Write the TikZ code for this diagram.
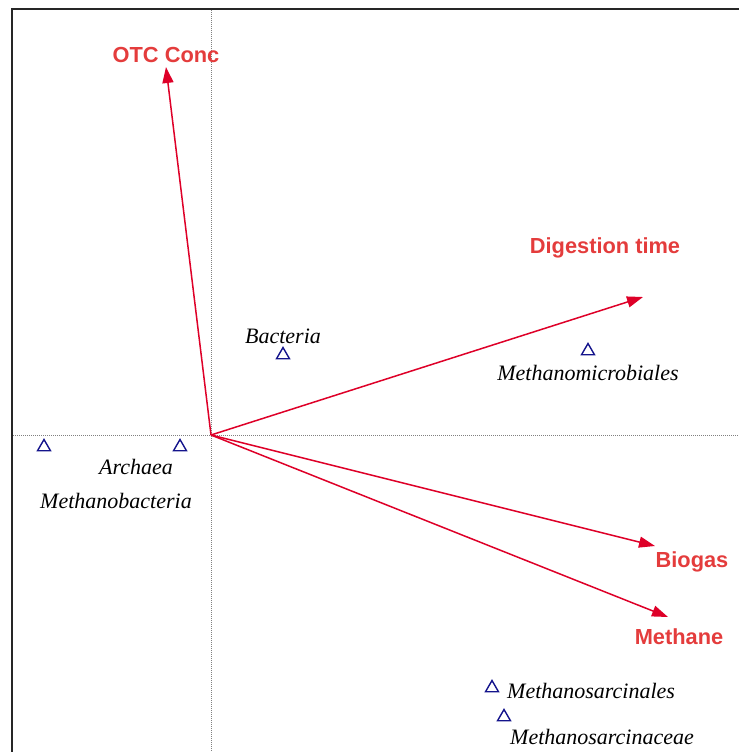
\documentclass[tikz,border=0pt]{standalone}
\usepackage{fontspec}
\setmainfont{Liberation Serif}
\newfontfamily\lsans{Liberation Sans}
\usetikzlibrary{arrows.meta,shapes.geometric}
\definecolor{arrowred}{RGB}{222,0,40}
\definecolor{labelred}{RGB}{228,60,60}
\definecolor{tri}{RGB}{20,20,140}
\tikzset{
  vec/.style={arrowred, line width=1.5pt, -{Triangle[length=16pt,width=11pt]}},
  varlabel/.style={text=labelred, font=\lsans\bfseries\fontsize{21.8}{24}\selectfont, inner sep=0pt},
  sp/.style={font=\itshape\fontsize{22}{24}\selectfont, inner sep=0pt},
  trimark/.style={regular polygon, regular polygon sides=3, draw=tri, line width=1.4pt, minimum size=15pt, inner sep=0pt},
  axis/.style={gray, line width=0.9pt, dash pattern=on 1pt off 1pt},
}
\begin{document}
\begin{tikzpicture}[x=1pt,y=-1pt]
\useasboundingbox (0,0) rectangle (739,752);
% frame
\draw[black!85, line width=2.4pt] (12,752) -- (12,9) -- (739,9);
% axes
\coordinate (O) at (211,435);
\coordinate (axT) at (211,10);
\coordinate (axB) at (211,752);
\coordinate (axL) at (13,435);
\coordinate (axR) at (739,435);
\draw[axis] (axT) -- (axB);
\draw[axis] (axL) -- (axR);
% arrow tips
\coordinate (otc) at (166,67);
\coordinate (dig) at (643,297);
\coordinate (bio) at (655,546);
\coordinate (met) at (668,617);
\draw[vec] (O) -- (otc);
\draw[vec] (O) -- (dig);
\draw[vec] (O) -- (bio);
\draw[vec] (O) -- (met);
% variable labels
\node[varlabel] (lotc) at (166,55) {OTC Conc};
\node[varlabel] (ldig) at (605,248) {Digestion time};
\node[varlabel] (lbio) at (692,562) {Biogas};
\node[varlabel] (lmet) at (679,637) {Methane};
% species triangles
\node[trimark] (t1) at (44,447) {};
\node[trimark] (t2) at (180,447) {};
\node[trimark] (t3) at (283,355) {};
\node[trimark] (t4) at (588,351) {};
\node[trimark] (t5) at (492,688) {};
\node[trimark] (t6) at (504,717) {};
% species labels
\node[sp] (s3) at (283,336) {Bacteria};
\node[sp] (s2) at (136,467) {Archaea};
\node[sp] (s1) at (116,501) {Methanobacteria};
\node[sp] (s4) at (588,373) {Methanomicrobiales};
\node[sp, anchor=west] (s5) at (507,691) {Methanosarcinales};
\node[sp, anchor=west] (s6) at (510,737) {Methanosarcinaceae};
\end{tikzpicture}
\end{document}
